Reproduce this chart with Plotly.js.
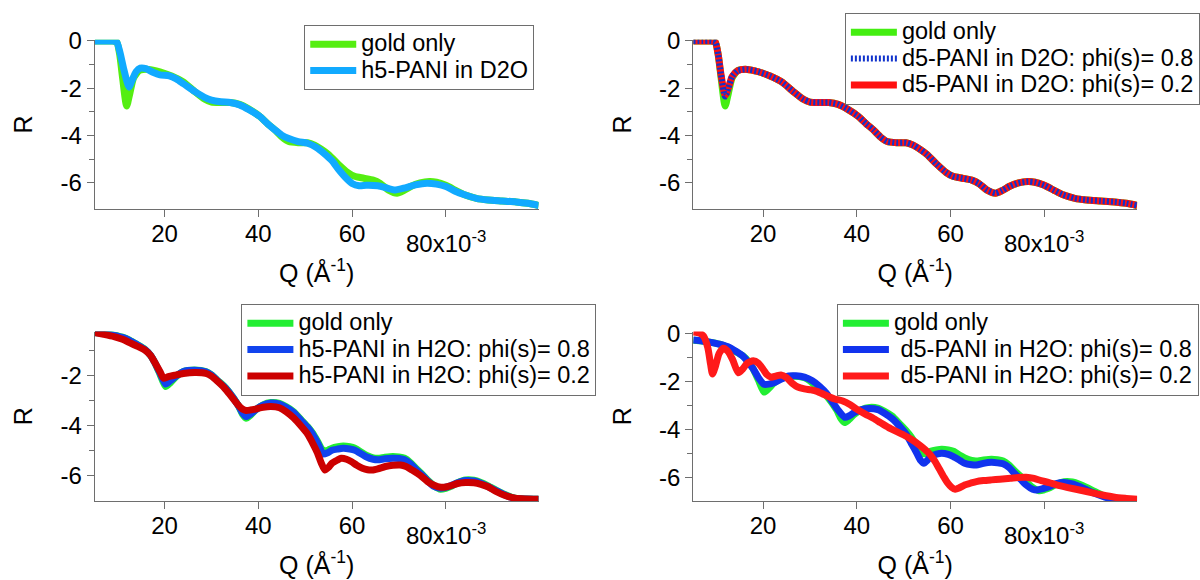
<!DOCTYPE html>
<html>
<head>
<meta charset="utf-8">
<script src="https://cdn.plot.ly/plotly-3.0.1.min.js"></script>
<style>html,body{margin:0;padding:0;background:#fff;}#chart{width:1200px;height:580px;}</style>
</head>
<body>
<div id="chart"></div>
<script>
// ---- tick labels ----
var xTickVals = [20, 40, 60];
var xTickText = ['20', '40', '60'];
var xLastTickVal = [80];
var xLastTickLabel = '80x10<sup>-3</sup>';
var yTickValsTop = [0, -2, -4, -6];
var yTickTextTop = ['0', '-2', '-4', '-6'];
var yTickValsBL = [-2, -4, -6];
var yTickTextBL = ['-2', '-4', '-6'];
var yMinorVals = [-1, -3, -5];

// ---- series names ----
var nameGold = 'gold only';
var nameH5D2O = 'h5-PANI in D2O';
var nameD5D2O08 = 'd5-PANI in D2O: phi(s)= 0.8';
var nameD5D2O02 = 'd5-PANI in D2O: phi(s)= 0.2';
var nameH5H2O08 = 'h5-PANI in H2O: phi(s)= 0.8';
var nameH5H2O02 = 'h5-PANI in H2O: phi(s)= 0.2';
var nameD5H2O08 = '\u00a0d5-PANI in H2O: phi(s)= 0.8';
var nameD5H2O02 = '\u00a0d5-PANI in H2O: phi(s)= 0.2';

// ---- gold only, D2O contrast (Q in 1e-3 1/A, R = log) ----
var qGoldD2O = [5.1, 7, 9.0, 9.8, 10.4, 11.0, 11.9, 12.6, 13.4, 14.6, 16.6, 19.0, 21.5, 23.9, 26.4, 28.5, 30.0, 32.0, 34.0, 36.0, 38.0, 40.2, 42.0, 43.5, 45.0, 46.5, 48.5, 50.5, 52.0, 53.5, 55.0, 57.0, 59.0, 60.5, 62.5, 64.5, 66.0, 67.8, 69.6, 71.0, 72.5, 74.5, 76.5, 78.0, 80.0, 82.0, 84.0, 86.5, 89.0, 92.0, 95.0, 97.5, 99.8];
var rGoldD2O = [0, 0, 0, -0.05, -0.55, -1.5, -2.75, -2.2, -1.55, -1.25, -1.2, -1.3, -1.48, -1.72, -2.13, -2.45, -2.58, -2.6, -2.6, -2.68, -2.88, -3.17, -3.5, -3.75, -4.05, -4.25, -4.3, -4.3, -4.4, -4.58, -4.8, -5.2, -5.55, -5.72, -5.8, -5.88, -6.02, -6.3, -6.43, -6.32, -6.15, -6.0, -5.94, -5.97, -6.1, -6.3, -6.5, -6.65, -6.72, -6.76, -6.8, -6.86, -6.95];

// ---- h5-PANI in D2O ----
var qH5D2O = [5.1, 7, 9.0, 9.8, 10.5, 11.3, 12.4, 13.1, 13.9, 14.8, 16.0, 17.5, 19.0, 21.0, 22.5, 24.0, 26.4, 28.5, 30.0, 32.0, 34.0, 36.0, 38.0, 40.2, 42.0, 43.5, 45.0, 46.5, 48.5, 50.5, 52.4, 54.0, 55.7, 57.0, 58.5, 60.0, 61.5, 63.0, 65.5, 67.5, 69.0, 71.0, 73.5, 76.0, 78.0, 80.0, 82.0, 84.0, 86.5, 89.0, 92.0, 95.0, 97.5, 99.8];
var rH5D2O = [0, 0, 0, -0.05, -0.5, -1.2, -1.95, -1.65, -1.3, -1.15, -1.17, -1.32, -1.43, -1.47, -1.6, -1.8, -2.13, -2.38, -2.5, -2.57, -2.6, -2.7, -2.9, -3.17, -3.5, -3.75, -3.98, -4.12, -4.25, -4.32, -4.5, -4.75, -5.06, -5.4, -5.75, -6.02, -6.12, -6.1, -6.12, -6.22, -6.3, -6.22, -6.08, -6.01, -6.05, -6.15, -6.35, -6.5, -6.65, -6.72, -6.76, -6.8, -6.86, -6.95];

// ---- d5-PANI in D2O ----
var qD5D2O08 = [5.1, 7, 9.0, 9.8, 10.4, 11.0, 11.9, 12.6, 13.4, 14.6, 16.6, 19.0, 21.5, 23.9, 26.4, 28.5, 30.0, 32.0, 34.0, 36.0, 38.0, 40.2, 42.0, 43.5, 45.0, 46.5, 48.5, 50.5, 52.0, 53.5, 55.0, 57.0, 59.0, 60.5, 62.5, 64.5, 66.0, 67.8, 69.6, 71.0, 72.5, 74.5, 76.5, 78.0, 80.0, 82.0, 84.0, 86.5, 89.0, 92.0, 95.0, 97.5, 99.8];
var rD5D2O08 = [0, 0, 0, -0.05, -0.55, -1.4, -2.35, -2.0, -1.5, -1.25, -1.2, -1.3, -1.48, -1.72, -2.13, -2.45, -2.58, -2.6, -2.6, -2.68, -2.88, -3.17, -3.5, -3.75, -4.05, -4.25, -4.3, -4.3, -4.4, -4.58, -4.8, -5.2, -5.55, -5.72, -5.8, -5.88, -6.02, -6.3, -6.43, -6.32, -6.15, -6.0, -5.94, -5.97, -6.1, -6.3, -6.5, -6.65, -6.72, -6.76, -6.8, -6.86, -6.95];
var qD5D2O02 = [5.1, 7, 9.0, 9.8, 10.4, 11.0, 11.9, 12.6, 13.4, 14.6, 16.6, 19.0, 21.5, 23.9, 26.4, 28.5, 30.0, 32.0, 34.0, 36.0, 38.0, 40.2, 42.0, 43.5, 45.0, 46.5, 48.5, 50.5, 52.0, 53.5, 55.0, 57.0, 59.0, 60.5, 62.5, 64.5, 66.0, 67.8, 69.6, 71.0, 72.5, 74.5, 76.5, 78.0, 80.0, 82.0, 84.0, 86.5, 89.0, 92.0, 95.0, 97.5, 99.8];
var rD5D2O02 = [0, 0, 0, -0.05, -0.55, -1.4, -2.3, -1.98, -1.5, -1.25, -1.2, -1.3, -1.48, -1.72, -2.13, -2.45, -2.58, -2.6, -2.6, -2.68, -2.88, -3.17, -3.5, -3.75, -4.05, -4.25, -4.3, -4.3, -4.4, -4.58, -4.8, -5.2, -5.55, -5.72, -5.8, -5.88, -6.02, -6.3, -6.43, -6.32, -6.15, -6.0, -5.94, -5.97, -6.1, -6.3, -6.5, -6.65, -6.72, -6.76, -6.8, -6.86, -6.95];

// ---- gold only, H2O contrast ----
var qGoldH2O = [5.1, 7, 9.2, 11, 12.5, 14, 15.8, 17, 17.8, 19, 20.2, 21.2, 22.3, 24, 26.4, 28.8, 30, 31.2, 32.5, 33.7, 35.7, 36.6, 37.4, 38.3, 39.4, 41, 42.7, 44.5, 45.9, 47.5, 49.2, 50.5, 51.6, 52.8, 53.8, 54.8, 55.7, 57, 58.1, 59.5, 60.6, 62, 63, 64.5, 65.5, 67, 68.7, 70, 71.2, 72.5, 73.6, 75, 76.1, 77.5, 78.9, 80, 81, 82.5, 84.2, 86, 87.5, 89, 90.7, 92.5, 94.8, 97, 99.8];
var rGoldH2O = [-0.29, -0.32, -0.39, -0.47, -0.59, -0.75, -0.96, -1.2, -1.45, -1.95, -2.45, -2.3, -2.08, -1.85, -1.79, -1.85, -1.98, -2.19, -2.4, -2.65, -3.2, -3.55, -3.72, -3.6, -3.39, -3.18, -3.09, -3.12, -3.25, -3.45, -3.79, -4.05, -4.32, -4.7, -5.02, -5.0, -4.92, -4.86, -4.83, -4.86, -4.92, -5.08, -5.19, -5.3, -5.32, -5.28, -5.25, -5.27, -5.32, -5.5, -5.72, -5.97, -6.19, -6.42, -6.56, -6.52, -6.45, -6.3, -6.19, -6.2, -6.29, -6.42, -6.59, -6.76, -6.92, -6.95, -6.96];

// ---- h5-PANI in H2O ----
var qH5H2O08 = [5.1, 7, 9.2, 11, 12.5, 14, 15.8, 17, 17.8, 19, 20.2, 21.2, 22.3, 24, 26.4, 28.8, 30, 31.2, 32.5, 33.7, 35.7, 36.6, 37.4, 38.3, 39.4, 41, 42.7, 44.5, 45.9, 47.5, 49.2, 50.5, 51.6, 52.8, 53.8, 54.8, 55.7, 57, 58.1, 59.5, 60.6, 62, 63, 64.5, 65.5, 67, 68.7, 70, 71.2, 72.5, 73.6, 75, 76.1, 77.5, 78.9, 80, 81, 82.5, 84.2, 86, 87.5, 89, 90.7, 92.5, 94.8, 97, 99.8];
var rH5H2O08 = [-0.29, -0.33, -0.4, -0.48, -0.6, -0.76, -0.97, -1.2, -1.45, -1.9, -2.35, -2.22, -2.05, -1.85, -1.8, -1.86, -1.99, -2.2, -2.42, -2.67, -3.2, -3.5, -3.65, -3.55, -3.38, -3.2, -3.11, -3.15, -3.28, -3.48, -3.82, -4.08, -4.36, -4.76, -5.15, -5.1, -5.0, -4.95, -4.92, -4.95, -5.0, -5.15, -5.26, -5.36, -5.38, -5.34, -5.32, -5.33, -5.38, -5.55, -5.76, -6.0, -6.22, -6.45, -6.52, -6.48, -6.42, -6.3, -6.21, -6.23, -6.32, -6.45, -6.61, -6.78, -6.93, -6.95, -6.96];
var qH5H2O02 = [5.1, 7, 9.2, 11, 12.5, 14, 15.8, 17, 17.8, 19, 19.8, 20.8, 22.3, 24, 26.4, 28.8, 30, 31.2, 32.5, 33.7, 35.7, 36.6, 37.4, 38.3, 39.4, 41, 42.7, 44.5, 45.9, 47.5, 49.2, 50.5, 51.6, 52.6, 53.4, 54.2, 55, 55.7, 56.8, 57.7, 58.8, 59.8, 61, 62.2, 63.3, 64.3, 65.5, 67.1, 68.7, 70.3, 71.5, 72.8, 74.5, 76.1, 77.5, 78.9, 80, 81, 82.5, 84.2, 86, 87.5, 89, 90.7, 92.5, 94.8, 97, 99.8];
var rH5H2O02 = [-0.29, -0.36, -0.45, -0.56, -0.69, -0.82, -0.99, -1.2, -1.45, -1.85, -2.12, -2.05, -1.99, -1.93, -1.89, -1.92, -2.03, -2.22, -2.45, -2.72, -3.19, -3.35, -3.41, -3.39, -3.35, -3.28, -3.25, -3.3, -3.45, -3.7, -4.05, -4.35, -4.72, -5.1, -5.5, -5.79, -5.68, -5.52, -5.4, -5.32, -5.36, -5.45, -5.6, -5.72, -5.78, -5.79, -5.74, -5.65, -5.6, -5.59, -5.65, -5.79, -6.0, -6.25, -6.4, -6.48, -6.47, -6.42, -6.33, -6.29, -6.3, -6.36, -6.46, -6.65, -6.8, -6.92, -6.95, -6.96];

// ---- d5-PANI in H2O ----
var qD5H2O08 = [5.1, 7, 9.2, 12.5, 15.8, 17.8, 19, 20.2, 21.2, 22.3, 24, 25.5, 27, 28.8, 30.5, 32.1, 33.5, 34.5, 36, 37.4, 38.3, 39.4, 41, 42.7, 44.5, 45.9, 47.5, 49.2, 50.5, 51.6, 52.8, 53.6, 54.3, 55, 55.7, 57, 58.1, 59.5, 60.6, 62, 63, 64.5, 65.5, 67, 68.7, 70, 71.2, 72.5, 73.6, 75, 76.1, 77.5, 78.5, 79.5, 81, 82.5, 84.2, 86, 87.5, 89, 90.7, 92.5, 94.8, 97, 99.8];
var rD5H2O08 = [-0.28, -0.32, -0.39, -0.56, -0.97, -1.46, -1.85, -2.13, -2.12, -2.06, -1.9, -1.78, -1.77, -1.83, -1.98, -2.22, -2.5, -2.78, -3.2, -3.5, -3.45, -3.31, -3.18, -3.13, -3.18, -3.33, -3.55, -3.89, -4.2, -4.58, -5.0, -5.3, -5.42, -5.3, -5.14, -5.04, -5.0, -5.05, -5.14, -5.3, -5.42, -5.48, -5.49, -5.42, -5.38, -5.4, -5.44, -5.6, -5.83, -6.1, -6.32, -6.5, -6.53, -6.48, -6.39, -6.27, -6.22, -6.28, -6.39, -6.52, -6.67, -6.8, -6.92, -6.95, -6.96];
var qD5H2O02 = [5.1, 6.5, 7.3, 8.2, 8.8, 9.2, 9.8, 10.6, 11.5, 12.5, 13.5, 14.7, 15.6, 16.6, 17.9, 19.0, 20.0, 20.8, 21.7, 22.8, 23.8, 25.0, 26.2, 27.4, 28.8, 30.2, 31.5, 33.0, 35.3, 37.0, 38.6, 40.2, 41.8, 43.5, 45, 46.7, 48.3, 50, 51.6, 53.3, 54.5, 55.7, 56.7, 57.7, 58.6, 59.4, 60.2, 61, 61.8, 63, 64.2, 65.5, 67, 68.7, 70.5, 72.8, 74.5, 76.1, 77.8, 79.3, 81, 82.6, 85, 87.5, 90, 92.4, 95, 97.5, 99.8];
var rD5H2O02 = [0.05, 0.0, -0.12, -0.6, -1.3, -1.7, -1.4, -0.85, -0.62, -0.75, -1.1, -1.65, -1.5, -1.25, -1.15, -1.25, -1.5, -1.72, -1.83, -1.78, -1.74, -1.85, -2.08, -2.24, -2.32, -2.36, -2.42, -2.55, -2.74, -2.82, -2.98, -3.19, -3.37, -3.54, -3.72, -3.92, -4.08, -4.24, -4.42, -4.65, -4.84, -5.07, -5.35, -5.69, -6.0, -6.25, -6.42, -6.5, -6.45, -6.32, -6.25, -6.18, -6.14, -6.11, -6.08, -6.04, -6.01, -6.0, -6.05, -6.14, -6.22, -6.32, -6.43, -6.53, -6.64, -6.74, -6.83, -6.88, -6.92];

var FONT = 'Liberation Sans, Arial, Helvetica, sans-serif';
var LW = 7;
var LEGEND_TEXT_PX = 23.5;

function big(s) { return '<span style="font-size:' + LEGEND_TEXT_PX + 'px">' + s + '</span>'; }

function tr(x, y, name, color, xa, ya, leg, extra) {
  var t = {x: x, y: y, name: big(name), type: 'scatter', mode: 'lines',
    line: {color: color, width: LW, shape: 'spline', smoothing: 0.6},
    xaxis: xa, yaxis: ya, legend: leg, hoverinfo: 'skip'};
  if (extra) { for (var k in extra) t[k] = extra[k]; }
  return t;
}

var data = [
  tr(qGoldD2O, rGoldD2O, nameGold, '#55ee11', 'x', 'y', 'legend'),
  tr(qH5D2O, rH5D2O, nameH5D2O, '#11aaff', 'x', 'y', 'legend'),

  tr(qGoldD2O, rGoldD2O, nameGold, '#44ee11', 'x2', 'y2', 'legend2', {legendrank: 1}),
  tr(qD5D2O02, rD5D2O02, nameD5D2O02, '#ff1111', 'x2', 'y2', 'legend2', {legendrank: 3}),
  tr(qD5D2O08, rD5D2O08, nameD5D2O08, '#1133cc', 'x2', 'y2', 'legend2', {legendrank: 2}),

  tr(qGoldH2O, rGoldH2O, nameGold, '#22ee33', 'x3', 'y3', 'legend3'),
  tr(qH5H2O08, rH5H2O08, nameH5H2O08, '#1144ee', 'x3', 'y3', 'legend3'),
  tr(qH5H2O02, rH5H2O02, nameH5H2O02, '#cc0000', 'x3', 'y3', 'legend3'),

  tr(qGoldH2O, rGoldH2O, nameGold, '#22ee33', 'x4', 'y4', 'legend4'),
  tr(qD5H2O08, rD5H2O08, nameD5H2O08, '#1133ee', 'x4', 'y4', 'legend4'),
  tr(qD5H2O02, rD5H2O02, nameD5H2O02, '#ff1a1a', 'x4', 'y4', 'legend4')
];
data[4].line.dash = '2px,2px';
data[4].line.width = 6;

var AX = '#6e6e6e';
function xax(dom, anchor) {
  return {domain: dom, anchor: anchor, range: [5.1, 99.8], showline: true, linecolor: AX, linewidth: 1,
    showgrid: false, zeroline: false, ticks: 'outside', ticklen: 7, tickwidth: 1, tickcolor: AX,
    ticklabelstandoff: -4,
    tickmode: 'array', tickvals: xTickVals, ticktext: xTickText,
    minor: {tickmode: 'array', tickvals: xLastTickVal, ticks: 'outside', ticklen: 7, tickwidth: 1, tickcolor: AX, showgrid: false},
    tickfont: {family: FONT, size: 24, color: '#000'},
    title: {text: 'Q (Å<sup>-1</sup>)', font: {family: FONT, size: 25, color: '#000'}, standoff: 18}};
}
function yax(dom, anchor, rng, tv, tt) {
  return {domain: dom, anchor: anchor, range: rng, showline: true, linecolor: AX, linewidth: 1,
    showgrid: false, zeroline: false, ticks: 'outside', ticklen: 7, tickwidth: 1, tickcolor: AX,
    tickmode: 'array', tickvals: tv, ticktext: tt,
    minor: {tickmode: 'array', tickvals: yMinorVals, ticks: 'outside', ticklen: 5, tickwidth: 1, tickcolor: AX, showgrid: false},
    tickfont: {family: FONT, size: 24, color: '#000'},
    title: {text: 'R', font: {family: FONT, size: 25, color: '#000'}, standoff: 20}};
}

var XL = [95/1200, 540/1200], XR = [695/1200, 1140/1200];
var YT = [1 - 209/580, 1 - 39.8/580], YB = [1 - 501/580, 1 - 331.6/580];

function leg(x, y) {
  return {x: x, y: y, xanchor: 'left', yanchor: 'top', bgcolor: '#fff', bordercolor: '#6e6e6e', borderwidth: 1,
    font: {family: FONT, size: 18, color: '#000'}, itemwidth: 46, tracegroupgap: 0, traceorder: 'normal'};
}

function lastTick(xa, ytop) {
  return {text: xLastTickLabel, xref: xa, yref: 'paper', x: xLastTickVal[0], y: ytop, xanchor: 'center', yanchor: 'top',
    showarrow: false, font: {family: FONT, size: 24, color: '#000'}};
}

var layout = {
  width: 1200, height: 580,
  margin: {l: 0, r: 0, t: 0, b: 0},
  paper_bgcolor: '#fff', plot_bgcolor: '#fff',
  showlegend: true,
  xaxis: xax(XL, 'y'), yaxis: yax(YT, 'x', [-7.1, 0.05], yTickValsTop, yTickTextTop),
  xaxis2: xax(XR, 'y2'), yaxis2: yax(YT, 'x2', [-7.1, 0.05], yTickValsTop, yTickTextTop),
  xaxis3: xax(XL, 'y3'), yaxis3: yax(YB, 'x3', [-7.03, -0.25], yTickValsBL, yTickTextBL),
  xaxis4: xax(XR, 'y4'), yaxis4: yax(YB, 'x4', [-6.99, 0.07], yTickValsTop, yTickTextTop),
  legend: leg(305/1200, 1 - 25/580),
  legend2: leg(847/1200, 1 - 13/580),
  legend3: leg(242/1200, 1 - 304/580),
  legend4: leg(839/1200, 1 - 304/580),
  annotations: [
    lastTick('x', 1 - 225/580), lastTick('x2', 1 - 225/580),
    lastTick('x3', 1 - 517/580), lastTick('x4', 1 - 517/580)
  ]
};

Plotly.newPlot('chart', data, layout, {displayModeBar: false, staticPlot: true});
</script>
</body>
</html>
